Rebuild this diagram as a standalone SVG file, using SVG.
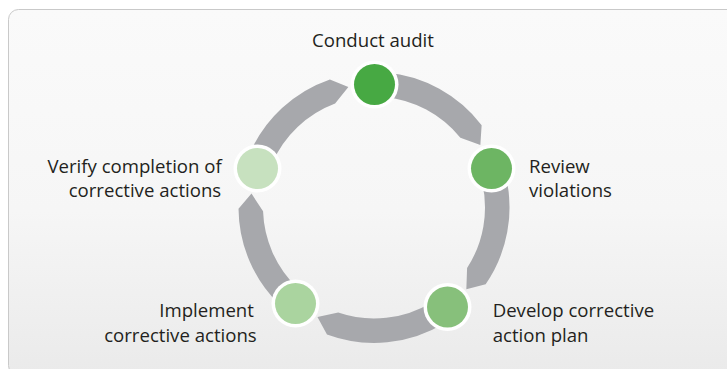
<svg xmlns="http://www.w3.org/2000/svg" width="727" height="369" viewBox="0 0 727 369">
  <defs>
    <linearGradient id="bg" x1="0" y1="0" x2="0" y2="1">
      <stop offset="0" stop-color="#fafafa"/>
      <stop offset="0.55" stop-color="#f6f6f6"/>
      <stop offset="1" stop-color="#eaeaea"/>
    </linearGradient>
  </defs>
  <style>
    .lbl { font-family: "Open Sans", "Noto Sans", sans-serif; font-size: 18.6px; fill: #231f20; }
    .arc { fill: #a7a8ac; }
    .halo { fill: #ffffff; }
  </style>
  <rect width="727" height="369" fill="#ffffff"/>
  <rect x="8.5" y="9.5" width="730" height="366" rx="10" fill="url(#bg)" stroke="#c9c9c9" stroke-width="1"/>

  <g id="connectors">
    <path class="arc" d="M385.81,72.52 A135.5,135.5 0 0 1 481.64,125.20 L480.35,145.11 L460.38,137.79 A111,111 0 0 0 383.67,96.92 Z"/>
    <path class="arc" d="M505.81,176.10 A135.5,135.5 0 0 1 485.67,284.25 L466.35,289.20 L467.09,267.95 A111,111 0 0 0 481.98,181.78 Z"/>
    <path class="arc" d="M444.80,323.03 A135.5,135.5 0 0 1 326.99,334.59 L317.44,317.06 L338.22,312.57 A111,111 0 0 0 432.00,302.14 Z"/>
    <path class="arc" d="M279.38,304.48 A135.5,135.5 0 0 1 238.51,208.68 L251.49,193.54 L263.07,211.37 A111,111 0 0 0 296.49,286.94 Z"/>
    <path class="arc" d="M249.73,153.48 A135.5,135.5 0 0 1 329.88,79.38 L348.37,86.90 L335.13,103.53 A111,111 0 0 0 272.21,163.24 Z"/>
  </g>

  <g id="node-conduct-audit">
    <circle class="halo" cx="374.5" cy="84.5" r="24"/>
    <circle cx="374.5" cy="84.5" r="20.5" fill="#47a943"/>
    <text class="lbl" x="373" y="46.7" text-anchor="middle">Conduct audit</text>
  </g>
  <g id="node-review-violations">
    <circle class="halo" cx="491.5" cy="168.5" r="24"/>
    <circle cx="491.5" cy="168.5" r="20.5" fill="#6db563"/>
    <text class="lbl" x="529" y="173.3">Review</text>
    <text class="lbl" x="529" y="196.9">violations</text>
  </g>
  <g id="node-develop-plan">
    <circle class="halo" cx="447.5" cy="307" r="24"/>
    <circle cx="447.5" cy="307" r="20.5" fill="#87c07b"/>
    <text class="lbl" x="492.7" y="316.7">Develop corrective</text>
    <text class="lbl" x="492.7" y="341.7">action plan</text>
  </g>
  <g id="node-implement">
    <circle class="halo" cx="295.5" cy="303.5" r="24"/>
    <circle cx="295.5" cy="303.5" r="20.5" fill="#aad49f"/>
    <text class="lbl" x="159.3" y="316.7">Implement</text>
    <text class="lbl" x="256.7" y="341.7" text-anchor="end">corrective actions</text>
  </g>
  <g id="node-verify">
    <circle class="halo" cx="257.5" cy="168.5" r="24"/>
    <circle cx="257.5" cy="168.5" r="20.5" fill="#c7e1bf"/>
    <text class="lbl" x="221.7" y="173.3" text-anchor="end">Verify completion of</text>
    <text class="lbl" x="221.2" y="197.3" text-anchor="end">corrective actions</text>
  </g>
</svg>
